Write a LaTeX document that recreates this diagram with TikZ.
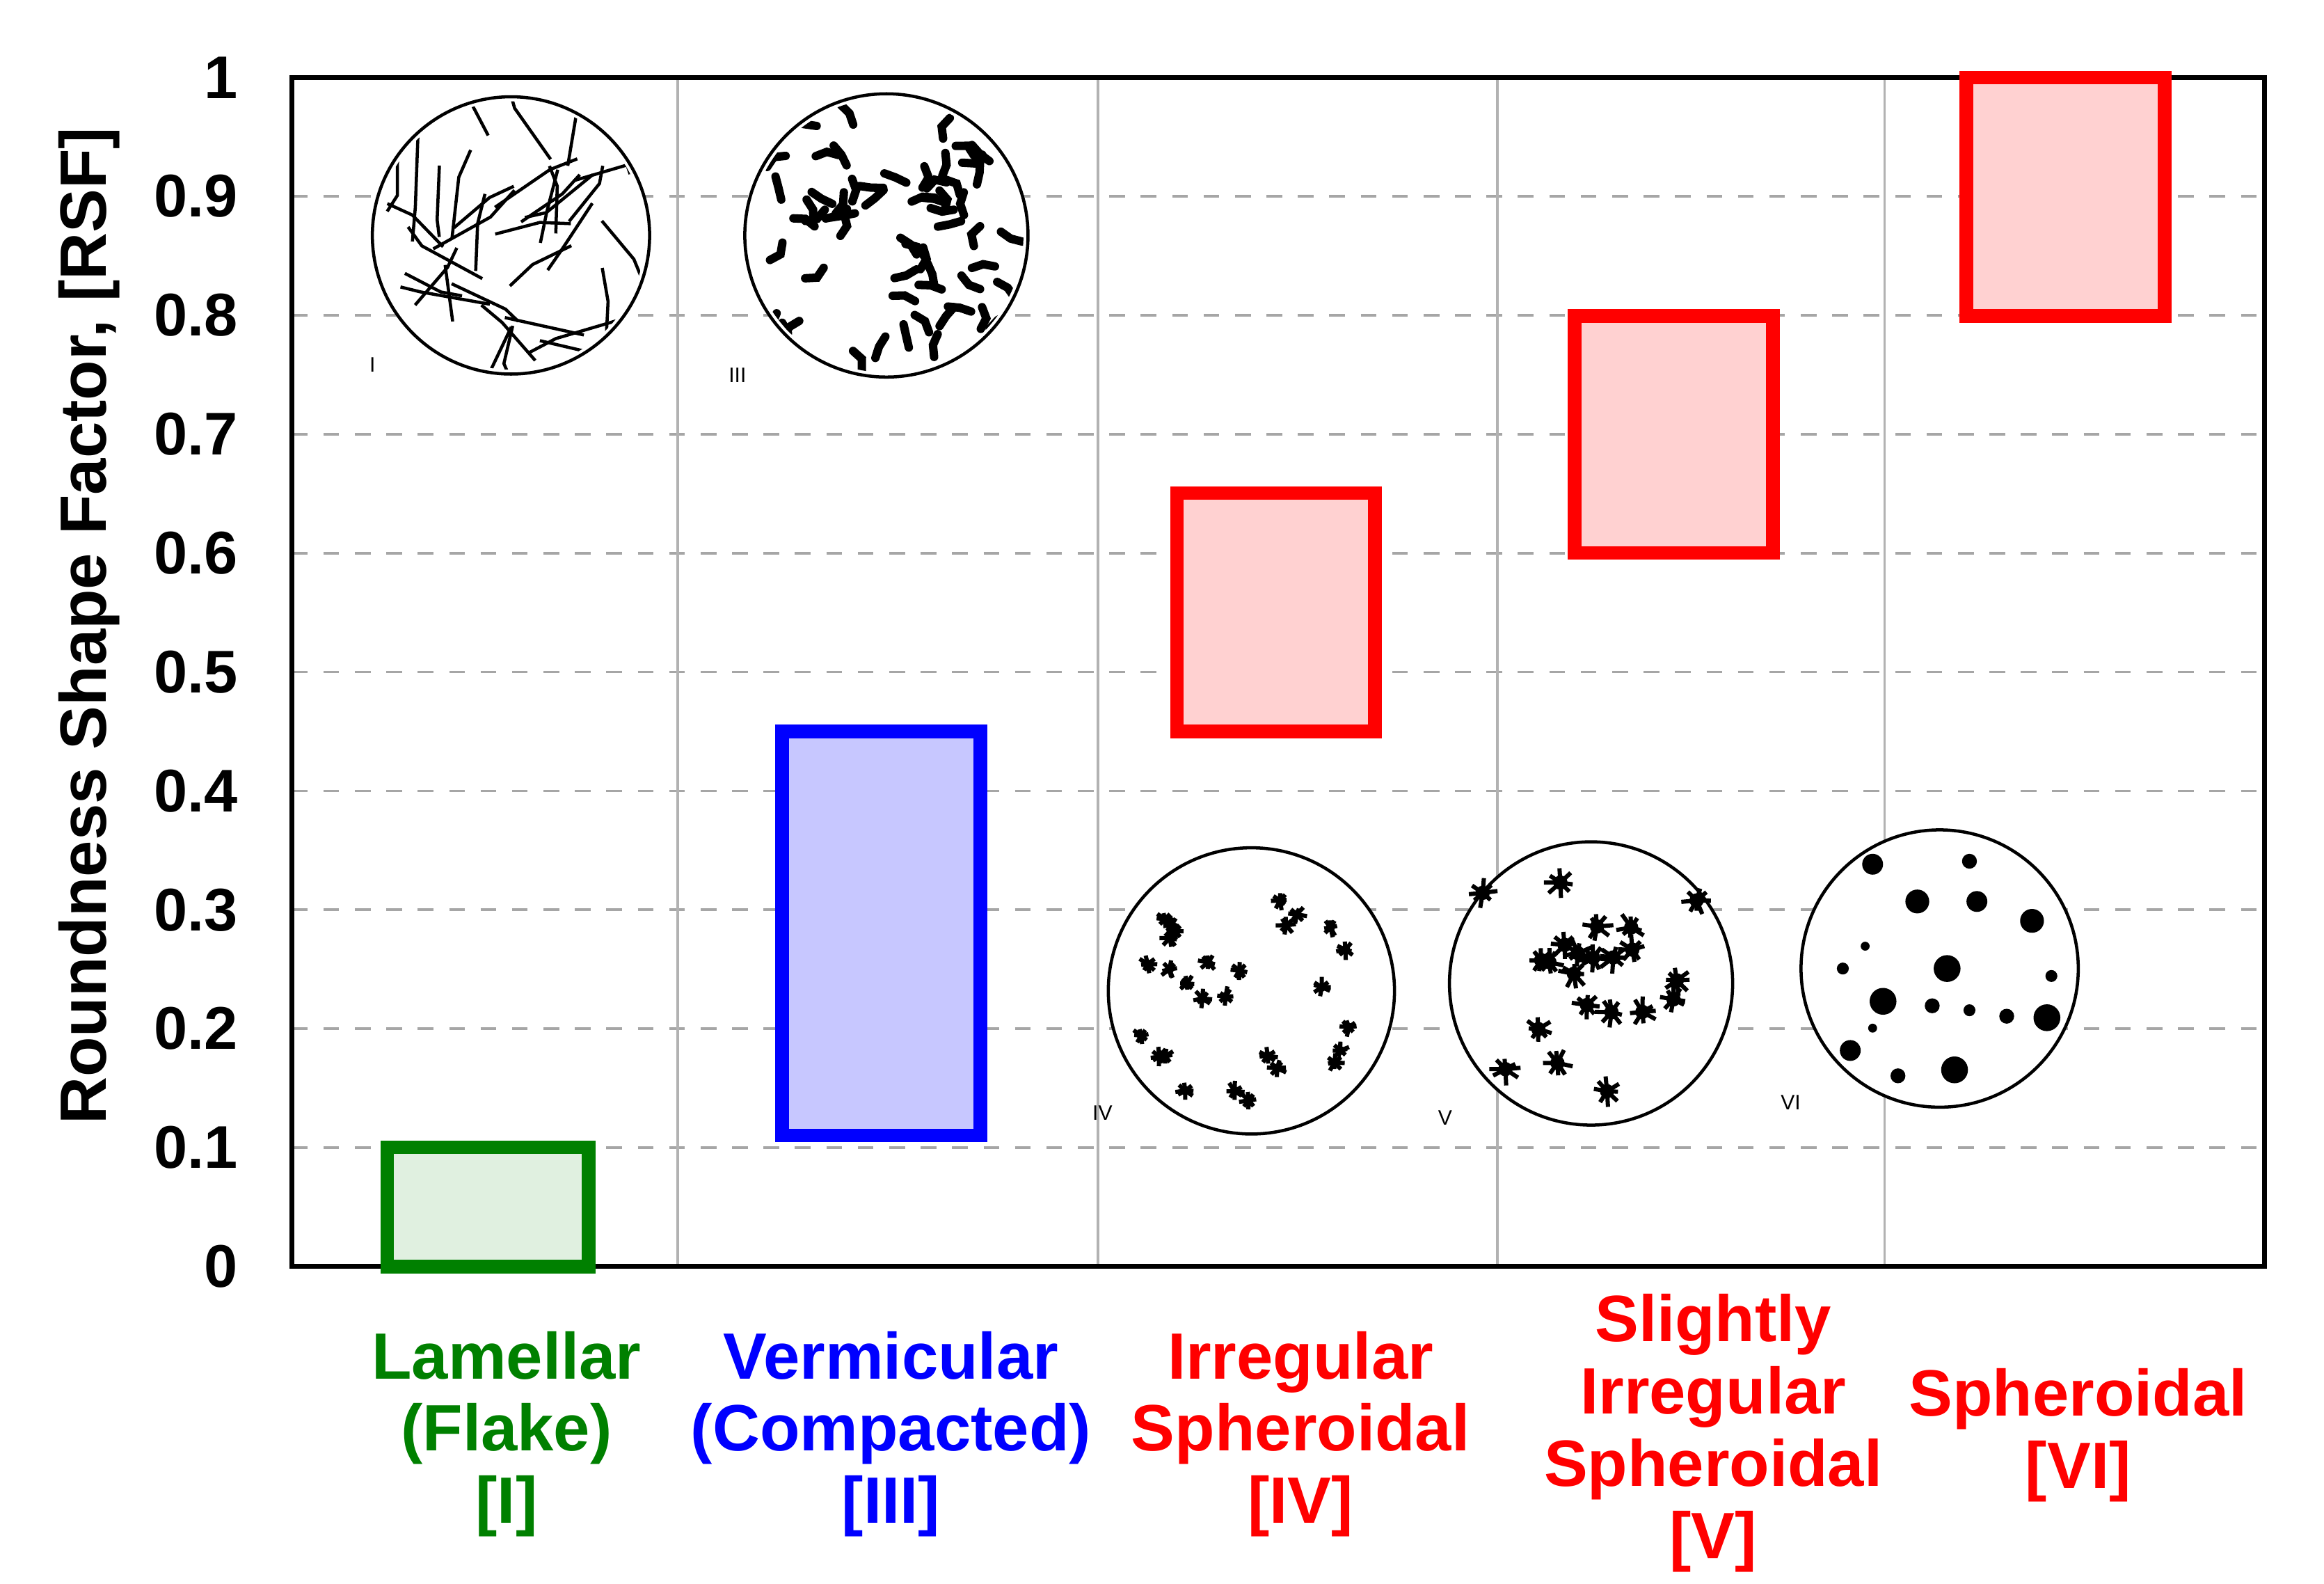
\documentclass[tikz,border=0pt]{standalone}
\usepackage{fontspec}
\setmainfont{Liberation Sans}
\usetikzlibrary{positioning}
\definecolor{flakeGreen}{RGB}{0,128,0}
\tikzset{%
  % styles for the plot
  gridLine/.style = {gray!70, dashed, line width=0.5pt},
  colLine/.style  = {gray!60, line width=0.5pt},
  rangeBox/.style = {line width=2.6pt},
  tickLabel/.style = {font=\fontsize{11.5}{11.5}\bfseries, anchor=east},
  catLabel/.style = {font=\fontsize{12.5}{13.8}\bfseries, align=center, anchor=north},
  micro/.style = {draw=black, line width=0.6pt, fill=white},
  romanTag/.style = {font=\fontsize{4}{4}\selectfont, inner sep=0pt},
}
\begin{document}
\begin{tikzpicture}[x=0.01cm, y=0.01cm]
  \useasboundingbox (0,0) rectangle (1560,1063);
  % horizontal grid and ticks (y=0 at 213, 1 at 1011)
  \foreach \v in {1,...,9} {
    \draw[gridLine] (196,{213+\v*79.8}) -- (1520,{213+\v*79.8});
  }
  \foreach \x in {455,737,1005,1265} {
    \draw[colLine] (\x,213) -- (\x,1011);
  }
  \foreach \v/\t in {0/0,1/0.1,2/0.2,3/0.3,4/0.4,5/0.5,6/0.6,7/0.7,8/0.8,9/0.9,10/1} {
    \node[tickLabel] at (172,{213+\v*79.8}) {\t};
  }
  \draw[line width=0.9pt] (196,213) rectangle (1520,1011);
  \node[font=\fontsize{12.5}{12.5}\bfseries, rotate=90] (yLabel) at (60,643) {Roundness Shape Factor, [RSF]};

  % range boxes
  \draw[rangeBox, draw=flakeGreen, fill=flakeGreen!12] (260,213) rectangle (395,293);
  \draw[rangeBox, draw=blue, fill=blue!22] (525,301) rectangle (658,572);
  \draw[rangeBox, draw=red, fill=red!18] (790,572) rectangle (923,732);
  \draw[rangeBox, draw=red, fill=red!18] (1057,692) rectangle (1190,851);
  \draw[rangeBox, draw=red, fill=red!18] (1320,851) rectangle (1453,1011);

  % micrographs
  \pgfmathsetseed{7}
  \node[micro, circle, minimum size=1.86cm] (microI) at (343,905) {};
  \begin{scope}
    \clip (343,905) circle (90);
    \foreach \i in {1,...,40} {
      \pgfmathsetmacro{\px}{343+rand*85}
      \pgfmathsetmacro{\py}{905+rand*85}
      \pgfmathsetmacro{\ang}{rand*180}
      \draw[line width=0.6pt] (\px,\py) -- ++(\ang:{25+rnd*25}) -- ++({\ang+rand*25}:{10+rnd*15});
    }
  \end{scope}
  \node[micro, circle, minimum size=1.9cm] (microIII) at (595,905) {};
  \begin{scope}
    \clip (595,905) circle (92);
    \foreach \i in {1,...,60} {
      \pgfmathsetmacro{\px}{595+rand*82}
      \pgfmathsetmacro{\py}{905+rand*82}
      \pgfmathsetmacro{\ang}{rand*180}
      \draw[line width=1.6pt, line cap=round] (\px,\py) -- ++(\ang:8) -- ++({\ang+rand*60}:8);
    }
  \end{scope}
  \node[micro, circle, minimum size=1.92cm] (microIV) at (840,398) {};
  \node[micro, circle, minimum size=1.9cm] (microV) at (1068,403) {};
  \foreach \cx/\cy/\n/\s in {840/398/28/5, 1068/403/22/8} {
    \foreach \i in {1,...,\n} {
      \pgfmathsetmacro{\px}{\cx+rand*75}
      \pgfmathsetmacro{\py}{\cy+rand*75}
      \fill (\px,\py) circle (\s*0.6);
      \foreach \a in {0,45,...,315} {
        \draw[line width=0.8pt] (\px,\py) -- ++({\a+rand*15}:{\s*(0.8+rnd*0.6)});
      }
    }
  }
  \node[micro, circle, minimum size=1.86cm] (microVI) at (1302,413) {};
  \foreach \dx/\dy/\r in {-45/70/7,20/72/5,-15/45/8,25/45/7,62/32/8,-65/0/4,5/0/9,75/-5/4,-38/-22/9,-5/-25/5,20/-28/4,45/-32/5,72/-33/9,-60/-55/7,10/-68/9,-28/-72/5,-45/-40/3,-50/15/3} {
    \fill (1302+\dx,413+\dy) circle (\r);
  }
  \node[romanTag] (tagI) at (250,818) {I};
  \node[romanTag] (tagIII) at (495,811) {III};
  \node[romanTag] (tagIV) at (740,316) {IV};
  \node[romanTag] (tagV) at (970,313) {V};
  \node[romanTag] (tagVI) at (1202,323) {VI};

  % category labels
  \node[catLabel, text=flakeGreen] (lamellar) at (340,182) {Lamellar\\(Flake)\\{[I]}};
  \node[catLabel, text=blue] (vermicular) at (598,182) {Vermicular\\(Compacted)\\{[III]}};
  \node[catLabel, text=red] (irregular) at (873,182) {Irregular\\Spheroidal\\{[IV]}};
  \node[catLabel, text=red] (slightly) at (1150,207) {Slightly\\Irregular\\Spheroidal\\{[V]}};
  \node[catLabel, text=red] (spheroidal) at (1395,157) {Spheroidal\\{[VI]}};
\end{tikzpicture}
\end{document}
